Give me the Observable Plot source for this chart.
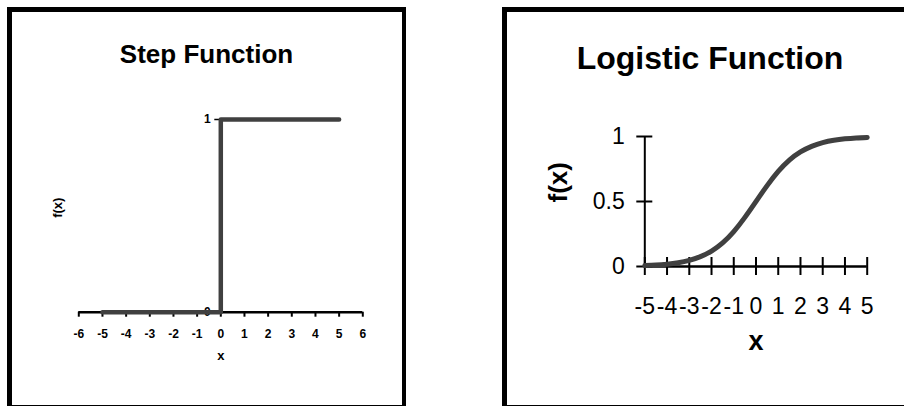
<!DOCTYPE html>
<html>
<head>
<meta charset="utf-8">
<script src="https://cdn.jsdelivr.net/npm/d3@7"></script>
<script src="https://cdn.jsdelivr.net/npm/@observablehq/plot@0.6"></script>
<style>
  html, body { margin: 0; padding: 0; background: #fff; }
  #page { position: relative; width: 904px; height: 406px; overflow: hidden; background: #fff;
          font-family: "Liberation Sans", Arial, Helvetica, sans-serif; }
  .panel { position: absolute; box-sizing: border-box; border: 5px solid #000; background: #fff; }
  .title { position: absolute; font-weight: bold; line-height: 1; white-space: nowrap;
           transform: translateX(-50%); color: #000; }
  .chart { position: absolute; top: 0; }
  .chart svg { display: block; background: transparent; max-width: none; }
</style>
</head>
<body>
<div id="page">
  <div class="panel" style="left:7px; top:7px; width:399px; height:403px; border-right-width:4px;"></div>
  <div class="panel" style="left:502px; top:7px; width:416px; height:403px;"></div>
  <div class="title" id="stepTitle" style="left:206.5px; top:41px; font-size:26px;"></div>
  <div class="title" id="logTitle" style="left:710px; top:42px; font-size:32px;"></div>
  <div class="chart" id="stepChart" style="left:0px;"></div>
  <div class="chart" id="logChart" style="left:500px;"></div>
</div>
<script>
// Step function: f(x) = 0 for x < 0, 1 for x >= 0
const stepTitle = "Step Function";
const stepX = [-5, 0, 5];
const stepY = [0, 1, 1];
const stepXTicks = [-6, -5, -4, -3, -2, -1, 0, 1, 2, 3, 4, 5, 6];
const stepYTicks = [0, 1];

// Logistic function, sampled every half unit
const logTitle = "Logistic Function";
const logX = [-5, -4.5, -4, -3.5, -3, -2.5, -2, -1.5, -1, -0.5, 0, 0.5, 1, 1.5, 2, 2.5, 3, 3.5, 4, 4.5, 5];
const logY = [0.007, 0.011, 0.018, 0.029, 0.047, 0.076, 0.119, 0.182, 0.269, 0.378, 0.5,
              0.622, 0.731, 0.818, 0.881, 0.924, 0.953, 0.971, 0.982, 0.989, 0.993];
const logXTicks = [-5, -4, -3, -2, -1, 0, 1, 2, 3, 4, 5];
const logYTicks = [0, 0.5, 1];

const yLabel = "f(x)";
const xLabel = "x";

const lineColor = "#404040";
const fontFamily = "'Liberation Sans', Arial, Helvetica, sans-serif";
const fmt = d => String(d);

document.getElementById("stepTitle").textContent = stepTitle;
document.getElementById("logTitle").textContent = logTitle;

const stepData = stepX.map((x, i) => ({x, y: stepY[i]}));
const logData = logX.map((x, i) => ({x, y: logY[i]}));

// Left: step function, y axis crossing at x = 0
const stepPlot = Plot.plot({
  width: 450,
  height: 406,
  marginLeft: 78.3,
  marginRight: 87.7,
  marginTop: 119,
  marginBottom: 94.3,
  style: {fontFamily, background: "transparent", color: "#000"},
  x: {domain: [-6, 6]},
  y: {domain: [0, 1], axis: null},
  marks: [
    Plot.ruleX([0], {y1: 0, y2: 1, stroke: "#000", strokeWidth: 2}),
    Plot.ruleY([0], {stroke: "#000", strokeWidth: 2.4}),
    Plot.axisX(stepXTicks, {tickSize: 5, tickPadding: 12.5, strokeWidth: 2, fontSize: 12,
      fontWeight: "bold", tickFormat: fmt, label: null}),
    Plot.ruleY(stepYTicks, {x1: 0, x2: 0, insetLeft: -6, stroke: "#000", strokeWidth: 1.5}),
    Plot.text(stepYTicks, {x: 0, y: d => d, text: fmt, textAnchor: "end", dx: -10,
      fontSize: 12, fontWeight: "bold"}),
    Plot.line(stepData, {x: "x", y: "y", curve: "step-after", stroke: lineColor, strokeWidth: 4.5}),
    Plot.text([yLabel], {frameAnchor: "left", text: d => d, rotate: -90, dx: -21, dy: 2,
      fontSize: 13, fontWeight: "bold"}),
    Plot.text([xLabel], {frameAnchor: "bottom", text: d => d, dy: 48, fontSize: 13, fontWeight: "bold"})
  ]
});
document.getElementById("stepChart").appendChild(stepPlot);

// Right: logistic function, axes with crossing ticks
const logPlot = Plot.plot({
  width: 404,
  height: 406,
  marginLeft: 144.3,
  marginRight: 37.3,
  marginTop: 136,
  marginBottom: 140,
  style: {fontFamily, background: "transparent", color: "#000"},
  x: {domain: [-5, 5]},
  y: {domain: [0, 1]},
  marks: [
    Plot.ruleX([-5], {y1: 0, y2: 1, stroke: "#000", strokeWidth: 2}),
    Plot.ruleY([0], {stroke: "#000", strokeWidth: 2.4}),
    Plot.ruleX(logXTicks, {y1: 0, y2: 0, insetTop: -9, insetBottom: -9, stroke: "#000", strokeWidth: 2}),
    Plot.ruleY(logYTicks, {x1: -5, x2: -5, insetLeft: -8, insetRight: -8, stroke: "#000", strokeWidth: 2}),
    Plot.axisX(logXTicks, {tickSize: 0, tickPadding: 31, fontSize: 23, tickFormat: fmt, label: null}),
    Plot.axisY(logYTicks, {tickSize: 0, tickPadding: 20, fontSize: 23, tickFormat: fmt, label: null}),
    Plot.line(logData, {x: "x", y: "y", curve: "natural", stroke: lineColor, strokeWidth: 5}),
    Plot.text([yLabel], {frameAnchor: "left", text: d => d, rotate: -90, dx: -86, dy: 1,
      fontSize: 26, fontWeight: "bold"}),
    Plot.text([xLabel], {frameAnchor: "bottom", text: d => d, dy: 83, fontSize: 27, fontWeight: "bold"})
  ]
});
document.getElementById("logChart").appendChild(logPlot);
</script>
</body>
</html>
